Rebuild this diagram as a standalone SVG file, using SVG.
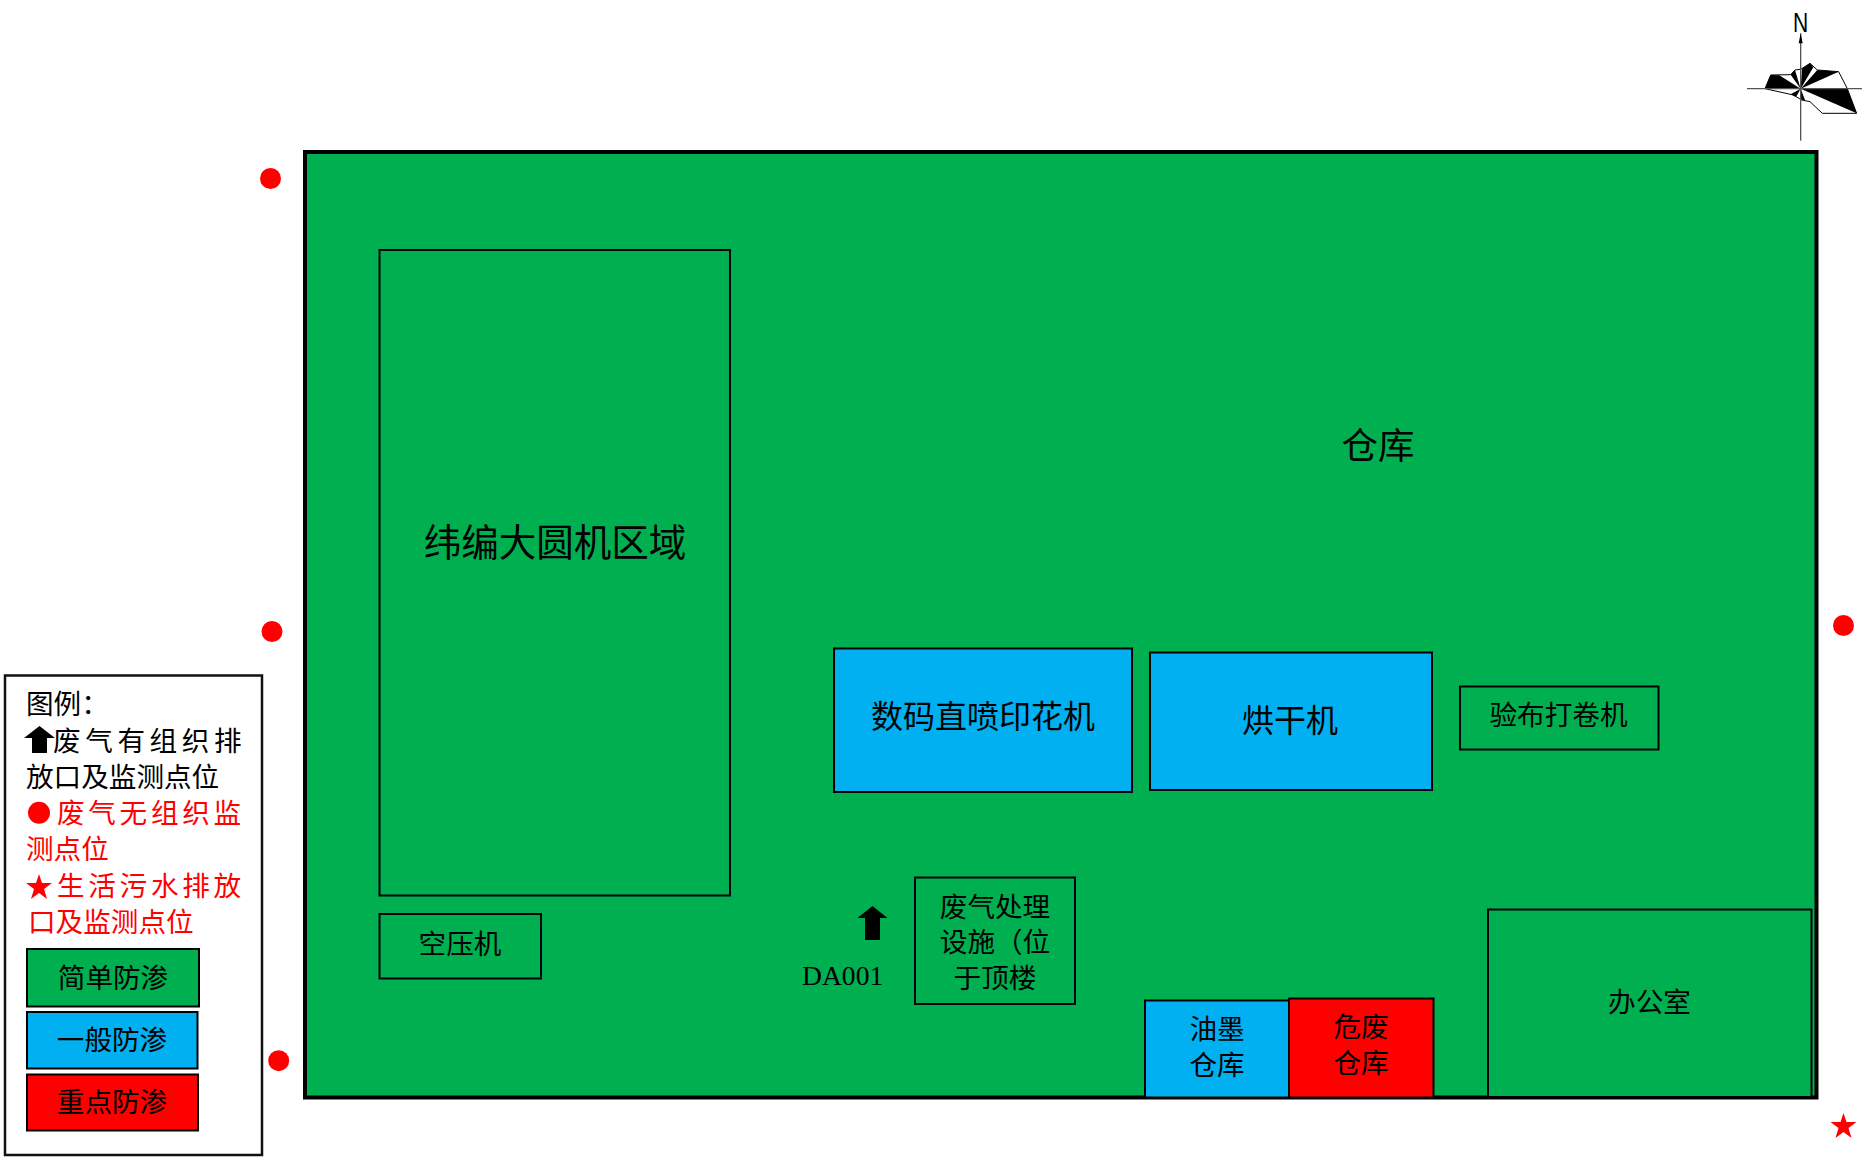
<svg xmlns="http://www.w3.org/2000/svg" xmlns:xlink="http://www.w3.org/1999/xlink" width="1865" height="1160" viewBox="0 0 1865 1160">
<style>
text{font-family:"Liberation Serif","Noto Sans CJK SC",serif;fill:#000;font-size:27.600px}
.c{text-anchor:middle}
.r{fill:#f00}
.b{stroke:#000;stroke-width:2}
.g{fill:#00B050}.bl{fill:#00B0F0}.rd{fill:#f00}
.lb{stroke:#111;stroke-width:2.5}
.dot{fill:#f00}
</style>
<defs>
<polygon id="star" points="0,-13 3,-4 13,-4 5,2 8,12 0,6 -8,12 -5,2 -13,-4 -3,-4" fill="#f00"/>
<polygon id="arrow" points="0,0 15,12 7.500,12 7.500,34 -7.500,34 -7.500,12 -15,12" fill="#000"/>
</defs>
<rect width="1865" height="1160" fill="#fff"/>
<g id="site"><rect x="305" y="152" width="1511.500" height="945.500" class="g" stroke="#000" stroke-width="4"/></g>
<g id="warehouse"><text class="c" x="1378" y="459" style="font-size:36.500px">仓库</text></g>
<g id="knitting"><rect x="379.500" y="250" width="350.500" height="645.500" class="g b"/><text class="c" x="555" y="556" style="font-size:37.500px">纬编大圆机区域</text></g>
<g id="compressor"><rect x="379.500" y="914" width="161.500" height="64.500" class="g b"/><text class="c" x="460" y="954">空压机</text></g>
<g id="printer"><rect x="834" y="648.500" width="298" height="143.500" class="bl b"/><text class="c" x="983" y="728" style="font-size:32px">数码直喷印花机</text></g>
<g id="dryer"><rect x="1150" y="652.500" width="282" height="137.500" class="bl b"/><text class="c" x="1290" y="732" style="font-size:32px">烘干机</text></g>
<g id="inspect"><rect x="1460" y="686.500" width="198.500" height="63" class="g b"/><text class="c" x="1558.500" y="725">验布打卷机</text></g>
<g id="treatment"><rect x="915" y="877.500" width="160" height="126.500" class="g b"/><text class="c" x="995" y="917">废气处理</text><text class="c" x="995" y="952">设施（位</text><text class="c" x="995" y="988">于顶楼</text></g>
<g id="da001"><use xlink:href="#arrow" href="#arrow" x="872.500" y="906"/><text x="802" y="985">DA001</text></g>
<g id="ink"><rect x="1145" y="1000.500" width="144" height="97" class="bl b"/><text class="c" x="1217" y="1039">油墨</text><text class="c" x="1217" y="1075">仓库</text></g>
<g id="hazard"><rect x="1289" y="998.500" width="144.500" height="99" class="rd b"/><text class="c" x="1361" y="1037">危废</text><text class="c" x="1361" y="1073">仓库</text></g>
<g id="office"><rect x="1488" y="909.500" width="323.500" height="187.500" class="g b"/><text class="c" x="1649.500" y="1012">办公室</text></g>
<g id="monitor">
<circle class="dot" cx="270.500" cy="178.500" r="10.500"/>
<circle class="dot" cx="272" cy="631.500" r="10.500"/>
<circle class="dot" cx="278.700" cy="1060.700" r="10.500"/>
<circle class="dot" cx="1843.500" cy="625.500" r="10.500"/>
<use xlink:href="#star" href="#star" x="1843.500" y="1126"/>
</g>
<g id="compass">
<g transform="translate(1700 0) scale(.3333)">
<polygon points="195,266 212,225 272,224 285,210 302,208 330,190 352,210 416,215 442,266 470,340 367,340 330,305 305,300 280,285" fill="#fff" stroke="#000" stroke-width="3"/>
<polygon points="302,266 195,266 212,225 238,226" fill="#000"/>
<polygon points="302,266 272,224 285,210" fill="#000"/>
<polygon points="302,266 306,206 330,190 340,202" fill="#000"/>
<polygon points="302,266 352,210 416,215" fill="#000"/>
<polygon points="302,266 442,266 470,340" fill="#000"/>
<polygon points="302,266 272,283 288,291" fill="#000"/>
<polygon points="302,266 302,298 316,302" fill="#000"/>
<line x1="141" y1="266" x2="486" y2="266" stroke="#555" stroke-width="4"/>
<line x1="302" y1="100" x2="302" y2="422" stroke="#555" stroke-width="4"/>
<polygon points="302,100 296,130 308,130" fill="#000"/>
</g>
<text x="1800.500" y="32" class="c" transform="translate(1800.500 0) scale(.78 1) translate(-1800.500 0)" style="font-family:'Liberation Sans',sans-serif;font-size:27px">N</text>
</g>
<g id="legend">
<rect x="5" y="675.500" width="257" height="479.500" fill="#fff" class="lb"/>
<text x="26" y="714">图例：</text>
<polygon points="39.500,726 55,738 47,738 47,753 32,753 32,738 24,738" fill="#000"/>
<text x="53" y="751" style="letter-spacing:4.600px">废气有组织排</text>
<text x="26" y="787">放口及监测点位</text>
<circle class="dot" cx="39" cy="812.700" r="11"/>
<text x="57" y="823" class="r" style="letter-spacing:3.700px">废气无组织监</text>
<text x="26" y="859" class="r">测点位</text>
<use xlink:href="#star" href="#star" x="39" y="887"/>
<text x="57" y="896" class="r" style="letter-spacing:3.700px">生活污水排放</text>
<text x="28" y="932" class="r">口及监测点位</text>
<rect x="27" y="949" width="172" height="57.500" class="g b"/><text class="c" x="113" y="988">简单防渗</text>
<rect x="27" y="1012" width="170.500" height="56.500" class="bl b"/><text class="c" x="112" y="1050">一般防渗</text>
<rect x="27" y="1074.500" width="171" height="56" class="rd b"/><text class="c" x="112" y="1112">重点防渗</text>
</g>
</svg>
